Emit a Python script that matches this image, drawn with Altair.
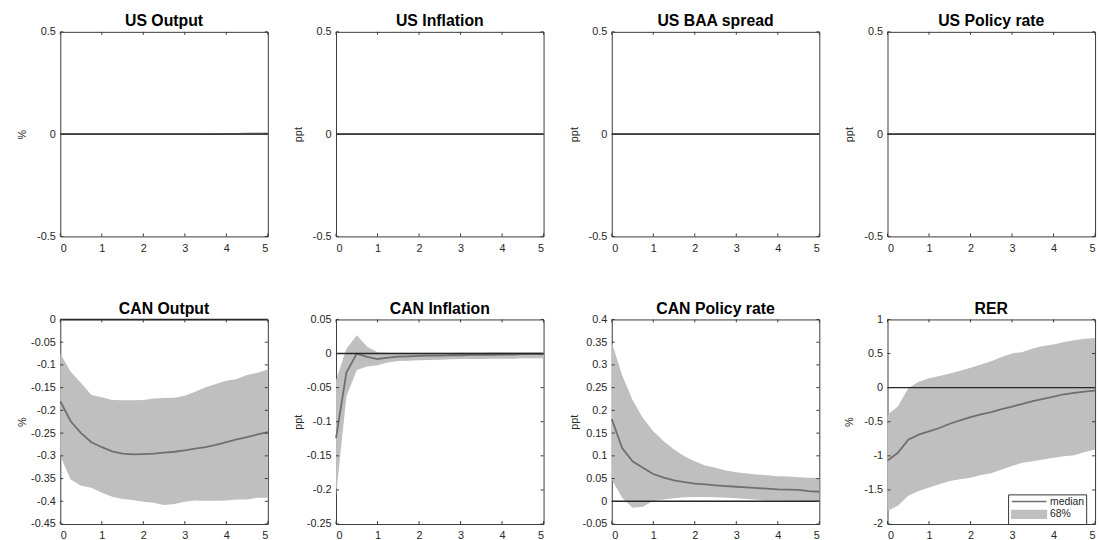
import altair as alt
import pandas as pd

FONT = "Liberation Sans"
BAND = "#bfbfbf"
MED = "#6f6f6f"
ZERO = "#262626"
FRAME = "#3a3a3a"
W, HGT = 210, 207

# horizon (years)
H = [0, 0.25, 0.5, 0.75, 1, 1.25, 1.5, 1.75, 2, 2.25, 2.5, 2.75, 3, 3.25, 3.5,
     3.75, 4, 4.25, 4.5, 4.75, 5]
XTICKS = [0, 1, 2, 3, 4, 5]

# US panels (responses essentially zero)
us_out_med = [0, 0, 0, 0, 0, 0, 0, 0, 0, 0, 0, 0, 0, 0, 0, 0.0005, 0.001, 0.0015, 0.002, 0.0025, 0.003]
us_out_lo = [0, 0, 0, 0, 0, 0, 0, 0, 0, 0, 0, 0, 0, 0, 0, 0, 0, 0, 0, 0, 0]
us_out_hi = [0, 0, 0, 0, 0, 0, 0, 0, 0, 0, 0, 0, 0, 0.001, 0.002, 0.003, 0.004, 0.005, 0.006, 0.007, 0.008]
zeros = [0, 0, 0, 0, 0, 0, 0, 0, 0, 0, 0, 0, 0, 0, 0, 0, 0, 0, 0, 0, 0]

# CAN Output
can_out_med = [-0.180, -0.224, -0.250, -0.270, -0.281, -0.290, -0.295, -0.297, -0.296, -0.295, -0.293,
               -0.291, -0.288, -0.284, -0.281, -0.276, -0.270, -0.264, -0.259, -0.253, -0.248]
can_out_hi = [-0.075, -0.115, -0.140, -0.166, -0.171, -0.177, -0.178, -0.178, -0.177, -0.174, -0.173,
              -0.172, -0.168, -0.159, -0.149, -0.142, -0.135, -0.131, -0.122, -0.117, -0.110]
can_out_lo = [-0.300, -0.352, -0.366, -0.370, -0.381, -0.390, -0.395, -0.397, -0.401, -0.403, -0.408,
              -0.406, -0.401, -0.398, -0.399, -0.399, -0.398, -0.396, -0.396, -0.392, -0.392]

# CAN Inflation
can_inf_med = [-0.124, -0.028, 0.000, -0.005, -0.008, -0.006, -0.0045, -0.004, -0.0035, -0.003, -0.003,
               -0.0025, -0.0025, -0.002, -0.002, -0.002, -0.0015, -0.0015, -0.001, -0.001, -0.001]
can_inf_hi = [-0.039, 0.007, 0.027, 0.010, 0.002, 0.001, 0.001, 0.001, 0.001, 0.001, 0.001,
              0.001, 0.0015, 0.0015, 0.0015, 0.002, 0.002, 0.002, 0.002, 0.002, 0.002]
can_inf_lo = [-0.209, -0.063, -0.024, -0.019, -0.017, -0.013, -0.011, -0.0105, -0.010, -0.0095, -0.009,
              -0.0085, -0.008, -0.008, -0.008, -0.0075, -0.0075, -0.0075, -0.007, -0.007, -0.007]

# CAN Policy rate
can_pol_med = [0.181, 0.117, 0.088, 0.074, 0.060, 0.052, 0.046, 0.042, 0.039, 0.037, 0.035,
               0.0335, 0.032, 0.0306, 0.029, 0.0277, 0.026, 0.0255, 0.025, 0.0226, 0.021]
can_pol_hi = [0.350, 0.277, 0.223, 0.183, 0.154, 0.132, 0.114, 0.099, 0.088, 0.079, 0.074,
              0.068, 0.064, 0.061, 0.059, 0.0575, 0.055, 0.0546, 0.053, 0.052, 0.051]
can_pol_lo = [0.048, 0.008, -0.014, -0.012, 0.001, 0.004, 0.0066, 0.0087, 0.0095, 0.0095, 0.0087,
              0.008, 0.0066, 0.005, 0.0036, 0.002, 0.0015, 0.001, 0.001, 0.0, 0.0]

# RER
rer_med = [-1.068, -0.956, -0.762, -0.689, -0.640, -0.592, -0.529, -0.480, -0.432, -0.393, -0.359,
           -0.316, -0.277, -0.238, -0.199, -0.165, -0.131, -0.097, -0.078, -0.058, -0.044]
rer_hi = [-0.398, -0.277, -0.010, 0.087, 0.136, 0.170, 0.209, 0.248, 0.291, 0.340, 0.388,
          0.451, 0.500, 0.524, 0.573, 0.612, 0.631, 0.670, 0.694, 0.718, 0.728]
rer_lo = [-1.806, -1.733, -1.587, -1.515, -1.466, -1.417, -1.369, -1.345, -1.320, -1.282, -1.257,
          -1.199, -1.150, -1.102, -1.078, -1.053, -1.029, -1.005, -0.990, -0.942, -0.908]

# y tick values per panel
yt_us = [-0.5, 0, 0.5]
yt_can_out = [-0.45, -0.4, -0.35, -0.3, -0.25, -0.2, -0.15, -0.1, -0.05, 0]
yt_can_inf = [-0.25, -0.2, -0.15, -0.1, -0.05, 0, 0.05]
yt_can_pol = [-0.05, 0, 0.05, 0.1, 0.15, 0.2, 0.25, 0.3, 0.35, 0.4]
yt_rer = [-2, -1.5, -1, -0.5, 0, 0.5, 1]

LEGEND_NAMES = ["median", "68%"]

LABEL_EXPR = "replace(datum.label, '\u2212', '-')"


def panel(title, ytitle, med, lo, hi, yticks, legend=False):
    df = pd.DataFrame({"h": H, "med": med, "lo": lo, "hi": hi})
    xs = alt.Scale(domain=[0, 5], nice=False, zero=False)
    ys = alt.Scale(domain=[yticks[0], yticks[-1]], nice=False, zero=False)
    xax = alt.Axis(values=XTICKS, format=".2~f", labelExpr=LABEL_EXPR, title=None,
                   ticks=False, domain=False, grid=False, labelPadding=6)
    yax = alt.Axis(values=yticks, format=".2~f", labelExpr=LABEL_EXPR, title=ytitle,
                   ticks=False, domain=False, grid=False, labelPadding=5,
                   minExtent=30, maxExtent=30, titlePadding=3)
    base = alt.Chart(df)
    band = base.mark_area(color=BAND, opacity=1).encode(
        x=alt.X("h:Q", scale=xs, axis=xax),
        y=alt.Y("lo:Q", scale=ys, axis=yax),
        y2="hi:Q",
    )
    zero = alt.Chart(pd.DataFrame({"z": [0]})).mark_rule(color=ZERO, strokeWidth=1.4).encode(
        y=alt.Y("z:Q", scale=ys, axis=yax)
    )
    medl = base.mark_line(color=MED, strokeWidth=1.8).encode(
        x=alt.X("h:Q", scale=xs, axis=xax), y=alt.Y("med:Q", scale=ys, axis=yax)
    )
    xt = pd.DataFrame({"t": XTICKS})
    yt = pd.DataFrame({"t": yticks})
    tick_b = alt.Chart(xt).mark_rule(color=FRAME, strokeWidth=1).encode(
        x=alt.X("t:Q", scale=xs, axis=xax), y=alt.value(HGT), y2=alt.value(HGT - 3))
    tick_t = alt.Chart(xt).mark_rule(color=FRAME, strokeWidth=1).encode(
        x=alt.X("t:Q", scale=xs, axis=xax), y=alt.value(0), y2=alt.value(3))
    tick_l = alt.Chart(yt).mark_rule(color=FRAME, strokeWidth=1).encode(
        y=alt.Y("t:Q", scale=ys, axis=yax), x=alt.value(0), x2=alt.value(3))
    tick_r = alt.Chart(yt).mark_rule(color=FRAME, strokeWidth=1).encode(
        y=alt.Y("t:Q", scale=ys, axis=yax), x=alt.value(W), x2=alt.value(W - 3))
    layers = [band, medl, zero, tick_b, tick_t, tick_l, tick_r]
    if legend:
        ldf = pd.DataFrame({"series": LEGEND_NAMES, "h": [0, 0], "v": [0, 0]})
        dom = LEGEND_NAMES
        leg = alt.Legend(title=None, orient="none", legendX=959, legendY=468,
                         fillColor="white", strokeColor="#333333", padding=2,
                         labelFont=FONT, labelFontSize=10.5, labelColor="#262626",
                         symbolSize=49, symbolStrokeWidth=1.5, symbolOpacity=1,
                         labelOffset=30, rowPadding=0)
        pts = alt.Chart(ldf).mark_point(filled=True, opacity=0).encode(
            x=alt.X("h:Q", scale=xs, axis=xax), y=alt.Y("v:Q", scale=ys, axis=yax),
            fill=alt.Fill("series:N", scale=alt.Scale(domain=dom, range=[MED, BAND]), legend=leg),
            stroke=alt.Stroke("series:N", scale=alt.Scale(domain=dom, range=[MED, BAND]), legend=leg),
            shape=alt.Shape("series:N", scale=alt.Scale(domain=dom, range=["M-1,0H9", "M-1,-1.1H9V1.1H-1Z"]), legend=leg),
        )
        layers.append(pts)
    return alt.layer(*layers).properties(
        width=W, height=HGT,
        title=alt.TitleParams(title, fontSize=16, fontWeight="bold", font=FONT, color="black",
                              anchor="middle", offset=-3, frame="group"),
    )


panels = [
    panel("US Output", "%", us_out_med, us_out_lo, us_out_hi, yt_us),
    panel("US Inflation", "ppt", zeros, zeros, zeros, yt_us),
    panel("US BAA spread", "ppt", zeros, zeros, zeros, yt_us),
    panel("US Policy rate", "ppt", zeros, zeros, zeros, yt_us),
    panel("CAN Output", "%", can_out_med, can_out_lo, can_out_hi, yt_can_out),
    panel("CAN Inflation", "ppt", can_inf_med, can_inf_lo, can_inf_hi, yt_can_inf),
    panel("CAN Policy rate", "ppt", can_pol_med, can_pol_lo, can_pol_hi, yt_can_pol),
    panel("RER", "%", rer_med, rer_lo, rer_hi, yt_rer, legend=True),
]

chart = alt.concat(
    *panels, columns=4, spacing=alt.RowColnumber(row=84, column=69), bounds="flush"
).properties(
    padding={"left": 16, "top": 9, "right": 0, "bottom": 0},
    background="white",
).configure_view(
    stroke=FRAME, strokeWidth=1
).configure_axis(
    labelFont=FONT, labelFontSize=11, labelColor="#262626",
    titleFont=FONT, titleFontSize=11, titleFontWeight="normal", titleColor="#262626",
)

chart.save("out.html", embed_options={"renderer": "svg", "actions": False})
